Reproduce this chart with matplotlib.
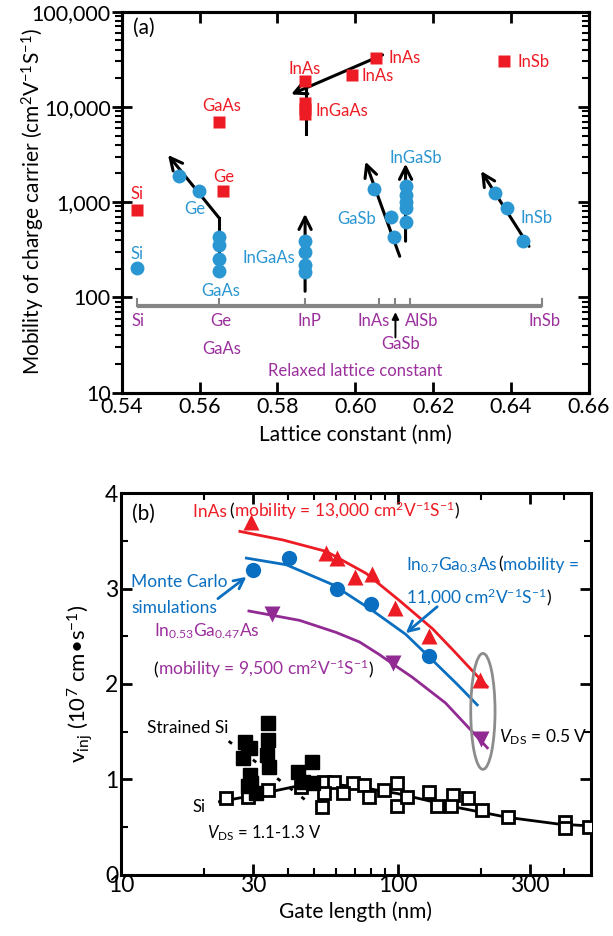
import numpy as np
import matplotlib
matplotlib.use('Agg')
import matplotlib.pyplot as plt
from matplotlib import transforms as mtransforms
from matplotlib.patches import Ellipse
from matplotlib.ticker import FixedLocator, FixedFormatter, NullFormatter, LogLocator

plt.rcParams['font.family'] = ['Lato', 'DejaVu Sans']
plt.rcParams['mathtext.fontset'] = 'custom'
plt.rcParams['mathtext.rm'] = 'Lato'
plt.rcParams['mathtext.it'] = 'Lato:italic'
plt.rcParams['mathtext.sf'] = 'Lato'
plt.rcParams['mathtext.bf'] = 'Lato:bold'

RED = '#ed1c24'
BLUEA = '#2a96d2'
BLUEB = '#0a6fc0'
PURPLE = '#912a92'
PURPLE_T = '#9b309c'
GRAY = '#858585'

# ---------------- Panel (a) data ----------------
red_x = [0.544, 0.5659, 0.565, 0.587, 0.587, 0.587, 0.587, 0.5992, 0.6052, 0.6382]
red_y = [817, 1295, 6870, 18750, 11000, 9500, 8400, 21550, 32400, 30350]

blue_x = [0.544,
          0.5548, 0.5599,
          0.565, 0.565, 0.565, 0.565,
          0.5871, 0.5871, 0.5871, 0.5871,
          0.6049, 0.6091, 0.6100,
          0.6129, 0.6129, 0.6129, 0.6129, 0.6129,
          0.6359, 0.6389, 0.6430]
blue_y = [204,
          1862, 1295,
          428, 358, 255, 188,
          395, 303, 221, 183,
          1381, 701, 428,
          1474, 1200, 1000, 858, 616,
          1253, 858, 395]

# arrows (start -> tip), panel (a)
arrows_a = [((0.565, 684), (0.5519, 3125)),
            ((0.5871, 116), (0.5871, 754)),
            ((0.6114, 270), (0.6026, 2659)),
            ((0.6129, 389), (0.6129, 2530)),
            ((0.6446, 344), (0.6323, 2120)),
            ((0.607, 35150), (0.5835, 13520))]
lines_a = [([0.565, 0.565], [166, 684]),
           ([0.5873, 0.5873], [5200, 19500])]

relaxed_names = ['Si', 'Ge', 'InP', 'InAs', 'GaSb', 'AlSb', 'InSb']
relaxed_a = [0.544, 0.565, 0.5871, 0.6062, 0.6103, 0.614, 0.648]

# ---------------- Panel (b) data ----------------
inas_L = [29.6, 55.2, 60.3, 70.3, 80.8, 98.0, 130.0, 199.0]
inas_v = [3.70, 3.375, 3.323, 3.123, 3.158, 2.80, 2.50, 2.04]
inas_fit_L = [26.9, 38.5, 55.2, 76.9, 101, 133.6, 158, 211]
inas_fit_v = [3.60, 3.51, 3.39, 3.16, 2.88, 2.58, 2.36, 1.97]

ingaas07_L = [30.0, 40.4, 60.3, 80.2, 130.0]
ingaas07_v = [3.20, 3.326, 2.993, 2.835, 2.294]
ingaas07_fit_L = [28.4, 39.6, 58.4, 81.1, 107, 133.6, 165, 194]
ingaas07_fit_v = [3.32, 3.25, 3.04, 2.77, 2.52, 2.25, 1.99, 1.78]

ingaas053_L = [35.2, 96.0, 199.6]
ingaas053_v = [2.73, 2.217, 1.42]
ingaas053_fit_L = [29.0, 44.2, 60, 72.8, 85.7, 96, 113, 149, 191, 211]
ingaas053_fit_v = [2.765, 2.667, 2.54, 2.44, 2.31, 2.21, 2.07, 1.80, 1.465, 1.33]

sSi_L = [34.0, 34.0, 33.6, 34.4, 28.0, 29.2, 27.6, 29.2, 29.5, 30.8, 43.6, 49.1, 45.4, 49.3, 28.8]
sSi_v = [1.588, 1.412, 1.255, 1.13, 1.395, 1.325, 1.22, 1.045, 0.958, 0.853, 1.08, 1.185, 0.975, 0.958, 0.93]
sSi_trend_L = [24.5, 48.5]
sSi_trend_v = [1.40, 0.74]

Si_L = [23.9, 28.7, 34.0, 44.8, 54.3, 59.0, 68.7, 75.7, 54.3, 63.2, 78.9, 53.5,
        89.3, 99.8, 99.8, 108.4, 129.7, 139, 158.8, 155.8, 179.9, 202.3, 250.6,
        403.6, 403.6, 490]
Si_v = [0.80, 0.818, 0.888, 0.922, 0.975, 0.975, 0.958, 0.94, 0.853, 0.853, 0.818, 0.713,
        0.888, 0.958, 0.72, 0.818, 0.87, 0.72, 0.835, 0.72, 0.80, 0.678, 0.60,
        0.555, 0.486, 0.503]
Si_fit_L = [22.7, 30, 42, 55, 72, 100, 167, 250, 382, 500]
Si_fit_v = [0.765, 0.83, 0.92, 0.955, 0.92, 0.85, 0.70, 0.60, 0.53, 0.51]

fig = plt.figure(figsize=(6.13, 9.36), dpi=100)
fig.patch.set_facecolor('white')
axa = fig.add_axes([0.1985, 0.5805, 0.7623, 0.4071])
axb = fig.add_axes([0.1974, 0.0656, 0.7667, 0.4074])

TICKFS = 15.5
LABFS = 15
ANNFS = 12

# ---------------- Panel (a) ----------------
axa.set_yscale('log')
axa.set_xlim(0.54, 0.66)
axa.set_ylim(10, 100000)
axa.set_xticks(np.arange(0.54, 0.661, 0.02))
axa.set_xticklabels(['0.54', '0.56', '0.58', '0.60', '0.62', '0.64', '0.66'])
axa.yaxis.set_major_locator(FixedLocator([10, 100, 1000, 10000, 100000]))
axa.yaxis.set_major_formatter(FixedFormatter(['10', '100', '1,000', '10,000', '100,000']))
axa.yaxis.set_minor_locator(LogLocator(base=10, subs=np.arange(2, 10)))
axa.yaxis.set_minor_formatter(NullFormatter())
axa.tick_params(axis='x', which='major', direction='in', length=8, width=2, top=True, labelsize=TICKFS, pad=3)
axa.tick_params(axis='y', which='major', direction='inout', length=14, width=2, labelsize=TICKFS, pad=1)
axa.tick_params(axis='y', which='minor', direction='out', length=5, width=1.5)
for s in axa.spines.values():
    s.set_linewidth(2.2)
axr = axa.twinx()
axr.set_yscale('log')
axr.set_ylim(10, 100000)
axr.yaxis.set_major_locator(FixedLocator([10, 100, 1000, 10000, 100000]))
axr.yaxis.set_minor_locator(LogLocator(base=10, subs=np.arange(2, 10)))
axr.yaxis.set_major_formatter(NullFormatter())
axr.yaxis.set_minor_formatter(NullFormatter())
axr.tick_params(axis='y', which='major', direction='in', length=8, width=2)
axr.tick_params(axis='y', which='minor', direction='in', length=5, width=1.5)
for s in axr.spines.values():
    s.set_linewidth(2.2)

axa.set_xlabel('Lattice constant (nm)', fontsize=LABFS, labelpad=6)
axa.set_ylabel('Mobility of charge carrier (cm$^{2}$V$^{-1}$S$^{-1}$)', fontsize=LABFS)
axa.yaxis.set_label_coords(-0.16, 0.5)

# arrows and lines
for (xs, ys) in lines_a:
    axa.plot(xs, ys, color='black', lw=2.2, zorder=3)
for (st, tip) in arrows_a:
    axa.annotate('', xy=tip, xytext=st,
                 arrowprops=dict(arrowstyle='->', color='black', lw=2.2, mutation_scale=22,
                                 shrinkA=0, shrinkB=0), zorder=3)

axa.plot(blue_x, blue_y, 'o', color=BLUEA, ms=10, mec='none', zorder=4)
axa.plot(red_x, red_y, 's', color=RED, ms=8, mec='none', zorder=4)

# relaxed lattice constant bar
bar_y = 82
axa.plot([relaxed_a[0], relaxed_a[-1]], [bar_y, bar_y], color=GRAY, lw=3, solid_capstyle='butt', zorder=2)
for xv in relaxed_a:
    axa.plot([xv, xv], [bar_y, bar_y * 1.18], color=GRAY, lw=1.5, zorder=2)
axa.annotate('', xy=(0.6103, 70), xytext=(0.6103, 38),
             arrowprops=dict(arrowstyle='-|>', color='black', lw=1.4, mutation_scale=10,
                             shrinkA=0, shrinkB=0))

def ta(x, y, s, c, ha='center', fs=ANNFS):
    axa.text(x, y, s, color=c, fontsize=fs, ha=ha, va='center')

ta(0.5443, 56.8, 'Si', PURPLE_T)
ta(0.5655, 56.8, 'Ge', PURPLE_T)
ta(0.5882, 56.8, 'InP', PURPLE_T)
ta(0.6047, 56.8, 'InAs', PURPLE_T)
ta(0.617, 56.8, 'AlSb', PURPLE_T)
ta(0.6486, 56.8, 'InSb', PURPLE_T)
ta(0.5657, 28.6, 'GaAs', PURPLE_T)
ta(0.6116, 32.3, 'GaSb', PURPLE_T)
ta(0.600, 16.9, 'Relaxed lattice constant', PURPLE_T)

ta(0.544, 1205, 'Si', RED)
ta(0.544, 288, 'Si', BLUEA)
ta(0.5663, 1848, 'Ge', RED)
ta(0.5589, 837, 'Ge', BLUEA)
ta(0.5653, 116, 'GaAs', BLUEA)
ta(0.5846, 259, 'InGaAs', BLUEA, ha='right')
ta(0.6004, 668, 'GaSb', BLUEA)
ta(0.6156, 2930, 'InGaSb', BLUEA)
ta(0.6466, 684, 'InSb', BLUEA)
ta(0.5657, 10200, 'GaAs', RED)
ta(0.587, 24950, 'InAs', RED)
ta(0.5898, 9000, 'InGaAs', RED, ha='left')
ta(0.6017, 21200, 'InAs', RED, ha='left')
ta(0.6085, 32400, 'InAs', RED, ha='left')
ta(0.6417, 29870, 'InSb', RED, ha='left')
axa.text(0.5429, 67400, '(a)', fontsize=15, ha='left', va='center')

# ---------------- Panel (b) ----------------
axb.set_xscale('log')
axb.set_xlim(10, 500)
axb.set_ylim(0, 4)
axb.xaxis.set_major_locator(FixedLocator([10, 30, 100, 300]))
axb.xaxis.set_major_formatter(FixedFormatter(['10', '30', '100', '300']))
axb.xaxis.set_minor_locator(FixedLocator([20, 40, 50, 60, 70, 80, 90, 200, 400]))
axb.xaxis.set_minor_formatter(NullFormatter())
axb.yaxis.set_major_locator(FixedLocator([0, 1, 2, 3, 4]))
axb.yaxis.set_minor_locator(FixedLocator([0.5, 1.5, 2.5, 3.5]))
axb.tick_params(which='major', direction='in', length=8, width=2, top=True, right=True, labelsize=TICKFS + 1)
axb.tick_params(which='minor', direction='in', length=5, width=1.5, top=True, right=True)
axb.tick_params(axis='x', pad=0)
axb.tick_params(axis='y', pad=2)
for s in axb.spines.values():
    s.set_linewidth(2.2)
axb.set_xlabel('Gate length (nm)', fontsize=LABFS, labelpad=4)
axb.set_ylabel('v$_{\\mathrm{inj}}$ (10$^{7}$ cm\u2022s$^{-1}$)', fontsize=LABFS + 1)
axb.yaxis.set_label_coords(-0.055, 0.5)

axb.plot(inas_fit_L, inas_fit_v, '-', color=RED, lw=2, zorder=3)
axb.plot(ingaas07_fit_L, ingaas07_fit_v, '-', color=BLUEB, lw=2, zorder=3)
axb.plot(ingaas053_fit_L, ingaas053_fit_v, '-', color=PURPLE, lw=2, zorder=3)
axb.plot(inas_L, inas_v, '^', color=RED, ms=12, mec='none', zorder=4)
axb.plot(ingaas07_L, ingaas07_v, 'o', color=BLUEB, ms=11, mec='none', zorder=4)
axb.plot(ingaas053_L, ingaas053_v, 'v', color=PURPLE, ms=12, mec='none', zorder=4)

axb.plot(sSi_trend_L, sSi_trend_v, '--', color='black', lw=2, dashes=(1.5, 4), zorder=2)
axb.plot(Si_fit_L, Si_fit_v, '-', color='black', lw=2, zorder=3)
axb.plot(Si_L, Si_v, 's', mfc='white', mec='black', mew=2, ms=8, zorder=4)
axb.plot(sSi_L, sSi_v, 's', color='black', ms=10, zorder=5)

axb.add_patch(Ellipse((0.77, 0.428), 0.0517, 0.304, transform=axb.transAxes,
                      fill=False, ec='#8c8c8c', lw=2, zorder=6))

axb.annotate('', xy=(28.4, 3.123), xytext=(22.4, 2.895),
             arrowprops=dict(arrowstyle='->', color=BLUEB, lw=2, mutation_scale=18, shrinkA=0, shrinkB=0))
axb.annotate('', xy=(107, 2.532), xytext=(139, 2.81),
             arrowprops=dict(arrowstyle='->', color=BLUEB, lw=2, mutation_scale=18, shrinkA=0, shrinkB=0))

renderer = fig.canvas.get_renderer()

def rainbow(ax, x, y, pieces, fs=ANNFS):
    t = ax.transData
    for s, c in pieces:
        txt = ax.text(x, y, s, color=c, fontsize=fs, va='baseline', ha='left', transform=t)
        ex = txt.get_window_extent(renderer=renderer)
        t = mtransforms.offset_copy(txt.get_transform(), x=ex.width, units='dots')

BFS = 12.5
rainbow(axb, 18.2, 3.756, [('InAs\u2009', RED), ('(', 'black'),
                            ('mobility = 13,000 cm$^{2}$V$^{-1}$S$^{-1}$', RED), (')', 'black')], BFS)
rainbow(axb, 107, 3.196, [('In$_{0.7}$Ga$_{0.3}$As\u2009', BLUEB), ('(', 'black'), ('mobility =', BLUEB)], BFS)
rainbow(axb, 107, 2.84, [('11,000 cm$^{2}$V$^{-1}$S$^{-1}$', BLUEB), (')', 'black')], BFS)
rainbow(axb, 13.08, 2.094, [('(', 'black'), ('mobility = 9,500 cm$^{2}$V$^{-1}$S$^{-1}$', PURPLE_T), (')', 'black')], BFS)
axb.text(10.9, 3.015, 'Monte Carlo', color=BLUEB, fontsize=BFS, va='baseline')
axb.text(10.9, 2.74, 'simulations', color=BLUEB, fontsize=BFS, va='baseline')
axb.text(13.15, 2.50, 'In$_{0.53}$Ga$_{0.47}$As', color=PURPLE_T, fontsize=BFS, va='baseline')
axb.text(12.37, 1.483, 'Strained Si', color='black', fontsize=12.5, va='baseline')
axb.text(18.2, 0.66, 'Si', color='black', fontsize=12, va='baseline')
axb.text(20.4, 0.385, '$V_{\\mathrm{DS}}$ = 1.1-1.3 V', color='black', fontsize=12, va='baseline')
axb.text(232, 1.384, '$V_{\\mathrm{DS}}$ = 0.5 V', color='black', fontsize=12.5, va='baseline')
axb.text(10.95, 3.784, '(b)', fontsize=15, ha='left', va='center')

fig.savefig('out.png', dpi=100, facecolor='white')
